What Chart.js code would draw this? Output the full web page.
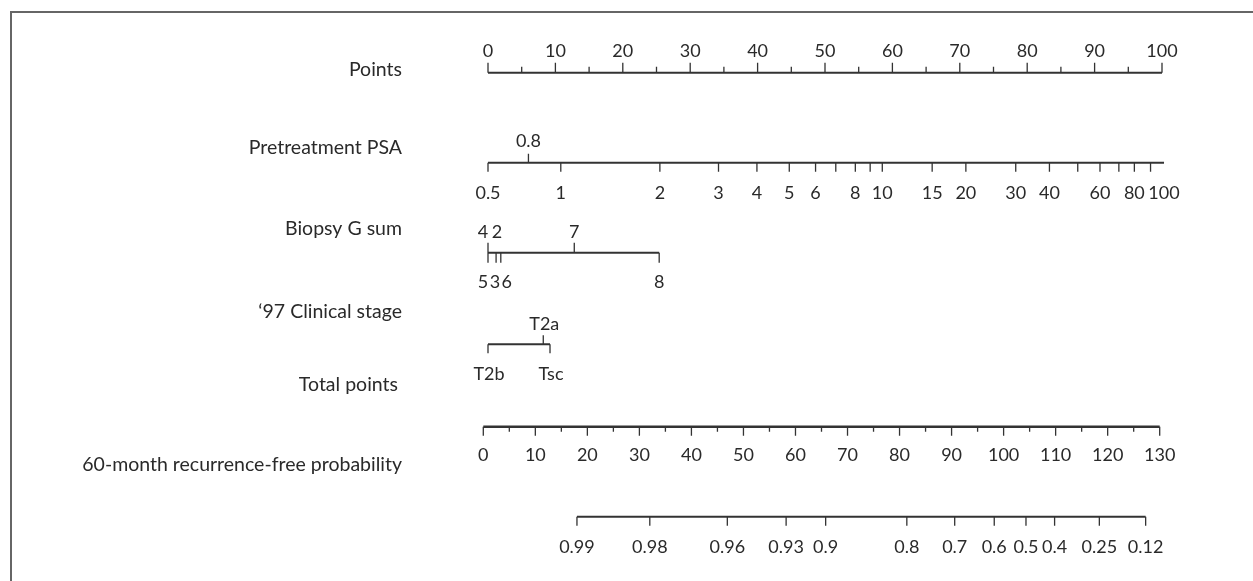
<!DOCTYPE html>
<html>
<head>
<meta charset="utf-8">
<script src="https://cdn.jsdelivr.net/npm/chart.js@4"></script>
<style>
  body { margin: 0; background: #fff; }
  #wrap { position: relative; width: 1253px; height: 581px; }
  #frame { position: absolute; left: 10px; top: 11px; right: 0; bottom: 0;
           border-left: 2px solid #666; border-top: 2px solid #666; }
  canvas { position: absolute; left: 0; top: 0; }
</style>
</head>
<body>
<div id="wrap">
  <div id="frame"></div>
  <canvas id="nomo" width="1253" height="581"></canvas>
</div>
<script>
// row names on the left
const rowNames = ['Points', 'Pretreatment PSA', 'Biopsy G sum', '\u201897 Clinical stage',
                  'Total points', '60-month recurrence-free probability'];

// points scale 0..100
const pointMajor = [0, 10, 20, 30, 40, 50, 60, 70, 80, 90, 100];
const pointMinor = [5, 15, 25, 35, 45, 55, 65, 75, 85, 95];

// PSA values and their points
const psaValues = ['0.5', '0.8', '1', '2', '3', '4', '5', '6', '7', '8', '9', '10',
                   '15', '20', '30', '40', '50', '60', '70', '80', '90', '100'];
const psaPoints = [0, 6.0, 10.8, 25.5, 34.2, 39.9, 44.7, 48.6, 51.6, 54.5, 56.7, 58.5,
                   65.9, 70.9, 78.3, 83.3, 87.5, 90.8, 93.6, 95.9, 98.3, 100.3];
const psaSide = ['down', 'up', 'down', 'down', 'down', 'down', 'down', 'down', 'tick', 'down', 'tick', 'down',
                 'down', 'down', 'down', 'down', 'tick', 'down', 'tick', 'down', 'tick', 'down'];

// Gleason sum
const gleasonValues = ['4', '5', '2', '3', '6', '7', '8'];
const gleasonPoints = [0, 0, 1.2, 1.2, 1.9, 12.8, 25.4];
const gleasonSide = ['up', 'down', 'up', 'down', 'down', 'up', 'down'];
const gleasonTick = [true, true, false, true, true, true, true];
const gleasonNudge = [-5, -5, 1, -1, 6, 0, 0];

// clinical stage
const stageValues = ['T2b', 'T2a', 'Tsc'];
const stagePoints = [0, 8.2, 9.2];
const stageSide = ['down', 'up', 'down'];

// total points 0..130
const totalMajor = [0, 10, 20, 30, 40, 50, 60, 70, 80, 90, 100, 110, 120, 130];
const totalMinor = [5, 15, 25, 35, 45, 55, 65, 75, 85, 95, 105, 115, 125];

// probability vs total points
const probLabels = ['0.99', '0.98', '0.96', '0.93', '0.9', '0.8', '0.7', '0.6', '0.5', '0.4', '0.25', '0.12'];
const probTotal = [18.0, 32.0, 46.9, 58.2, 65.8, 81.4, 90.6, 98.2, 104.3, 109.8, 118.4, 127.3];

// layout
const rowY = [72.7, 162.7, 252.7, 344.3, 426.7, 516.7];
const nameY = [70, 148, 229, 312, 385, 465];
const nameRight = [402, 402, 402, 402, 398, 402];
const NAME_FONT = '19.5px Lato';
const TICK_FONT = '18px Lato';
const INK = '#2a2a2a';

function segData(segs) {
  const out = [];
  segs.forEach(s => {
    out.push({x: s[0], y: s[1]}, {x: s[0], y: s[2]}, {x: s[0], y: null});
  });
  return out;
}
function lineData(x1, x2, y) {
  return [{x: x1, y: y}, {x: x2, y: y}];
}
function ds(data, axis, width) {
  return {
    data: data, xAxisID: axis, borderColor: '#333', borderWidth: width,
    pointRadius: 0, spanGaps: false, clip: false, tension: 0
  };
}

// ticks: [x, yFrom, yTo]
const datasets = [];
// points axis
datasets.push(ds(lineData(0, 100, rowY[0]), 'x', 2));
datasets.push(ds(segData(pointMajor.map(v => [v, rowY[0], rowY[0] - 10])
  .concat(pointMinor.map(v => [v, rowY[0], rowY[0] - 6]))), 'x', 1.3));
// PSA
datasets.push(ds(lineData(psaPoints[0], psaPoints[psaPoints.length - 1], rowY[1]), 'x', 2));
datasets.push(ds(segData(psaPoints.map((p, i) =>
  [p, rowY[1], psaSide[i] === 'up' ? rowY[1] - 9 : rowY[1] + 9])), 'x', 1.3));
// Gleason
datasets.push(ds(lineData(0, Math.max(...gleasonPoints), rowY[2]), 'x', 2));
datasets.push(ds(segData(gleasonPoints.map((p, i) => [p, gleasonSide[i], gleasonTick[i]])
  .filter(t => t[2])
  .map(t => [t[0], rowY[2], t[1] === 'up' ? rowY[2] - 10 : rowY[2] + 10])), 'x', 1.3));
// stage
datasets.push(ds(lineData(0, Math.max(...stagePoints), rowY[3]), 'x', 2));
datasets.push(ds(segData(stagePoints.map((p, i) =>
  [p, rowY[3], stageSide[i] === 'up' ? rowY[3] - 9 : rowY[3] + 9])), 'x', 1.3));
// total points
datasets.push(ds(lineData(0, 130, rowY[4]), 'xt', 2.4));
datasets.push(ds(segData(totalMajor.map(v => [v, rowY[4], rowY[4] + 9])
  .concat(totalMinor.map(v => [v, rowY[4], rowY[4] + 5]))), 'xt', 1.3));
// probability
datasets.push(ds(lineData(probTotal[0], probTotal[probTotal.length - 1], rowY[5]), 'xt', 2));
datasets.push(ds(segData(probTotal.map(v => [v, rowY[5], rowY[5] + 9])), 'xt', 1.3));

const textPlugin = {
  id: 'nomoText',
  afterDatasetsDraw(chart) {
    const c = chart.ctx;
    const x = chart.scales.x, xt = chart.scales.xt, y = chart.scales.y;
    c.save();
    c.fillStyle = INK;
    c.font = NAME_FONT;
    c.textBaseline = 'middle';
    c.textAlign = 'right';
    rowNames.forEach((n, i) => c.fillText(n, nameRight[i], y.getPixelForValue(nameY[i])));
    c.font = TICK_FONT;
    c.textAlign = 'center';
    const put = (txt, px, yy) => c.fillText(txt, px, y.getPixelForValue(yy));
    pointMajor.forEach(v => put(String(v), x.getPixelForValue(v), rowY[0] - 22));
    psaValues.forEach((v, i) => {
      if (psaSide[i] === 'up') put(v, x.getPixelForValue(psaPoints[i]), rowY[1] - 22);
      else if (psaSide[i] === 'down') put(v, x.getPixelForValue(psaPoints[i]), rowY[1] + 30);
    });
    gleasonValues.forEach((v, i) => {
      const yy = gleasonSide[i] === 'up' ? rowY[2] - 21 : rowY[2] + 29;
      put(v, x.getPixelForValue(gleasonPoints[i]) + gleasonNudge[i], yy);
    });
    stageValues.forEach((v, i) => {
      const yy = stageSide[i] === 'up' ? rowY[3] - 20 : rowY[3] + 30;
      put(v, x.getPixelForValue(stagePoints[i]) + 1, yy);
    });
    totalMajor.forEach(v => put(String(v), xt.getPixelForValue(v), rowY[4] + 28));
    probLabels.forEach((v, i) => put(v, xt.getPixelForValue(probTotal[i]), rowY[5] + 30));
    c.restore();
  }
};

// total-points scale: 0 -> 483.3px, 130 -> 1159.7px inside an area 488..1162
const tPer = (1159.7 - 483.3) / 130;
const tMin = (488 - 483.3) / tPer;
const tMax = tMin + 674 / tPer;

new Chart(document.getElementById('nomo'), {
  type: 'line',
  data: { datasets: datasets },
  options: {
    responsive: false,
    animation: false,
    layout: { padding: { left: 488, right: 91, top: 0, bottom: 0 } },
    plugins: { legend: { display: false }, tooltip: { enabled: false } },
    scales: {
      x: { type: 'linear', min: 0, max: 100, display: false },
      xt: { type: 'linear', axis: 'x', min: tMin, max: tMax, display: false },
      y: { type: 'linear', min: 0, max: 581, reverse: true, display: false }
    }
  },
  plugins: [textPlugin]
});
</script>
</body>
</html>
